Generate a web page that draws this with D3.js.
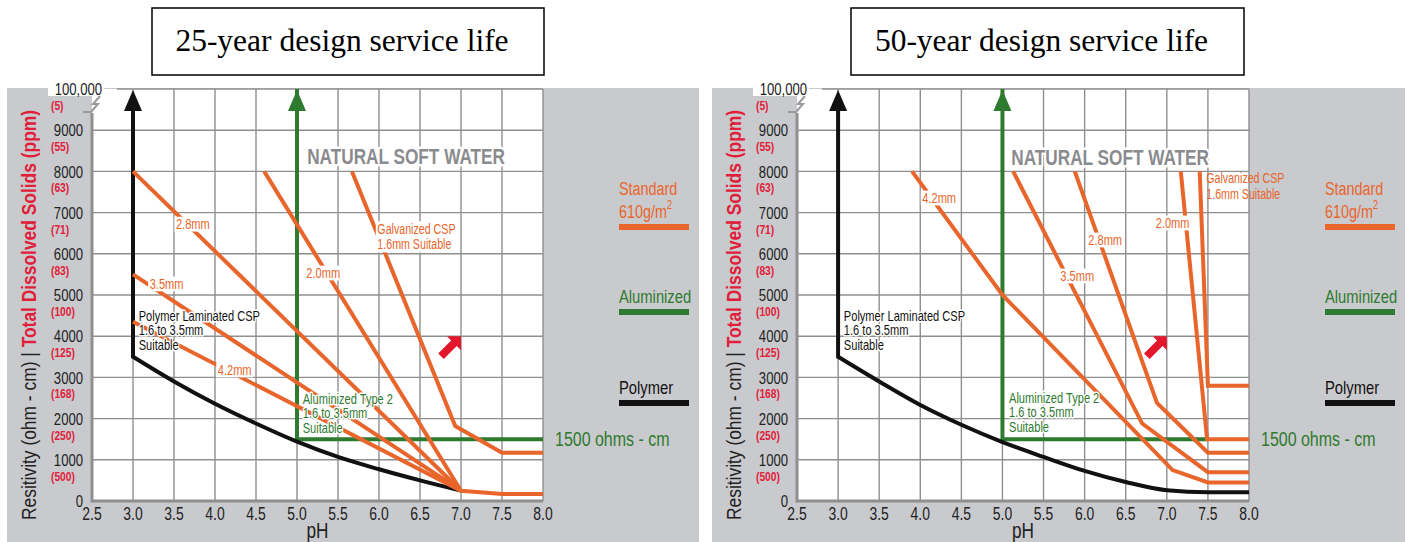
<!DOCTYPE html>
<html><head><meta charset="utf-8">
<script src="https://cdn.jsdelivr.net/npm/d3@7"></script>
<style>body{margin:0;background:#fff}svg{display:block}</style>
</head><body>
<svg id="c" width="1411" height="542"></svg>
<script>
// ---------- DATA ----------
const phTicks = [2.5, 3.0, 3.5, 4.0, 4.5, 5.0, 5.5, 6.0, 6.5, 7.0, 7.5, 8.0];
const phLabels = ["2.5","3.0","3.5","4.0","4.5","5.0","5.5","6.0","6.5","7.0","7.5","8.0"];
const resTicks = [0, 1000, 2000, 3000, 4000, 5000, 6000, 7000, 8000, 9000, 10000];
const resLabels = ["0","1000","2000","3000","4000","5000","6000","7000","8000","9000","100,000"];
const tdsLabels = ["","(500)","(250)","(168)","(125)","(100)","(83)","(71)","(63)","(55)","(5)"];

const titles = ["25-year design service life", "50-year design service life"];

// 25-year series [pH, resistivity]
const polymer25 = [[3.0,10000],[3.0,3500],[3.5,2900],[4.0,2360],[4.5,1880],[5.0,1440],[5.5,1070],[6.0,770],[6.5,500],[7.0,250]];
const aluminized25 = [[5.0,10000],[5.0,1500],[8.0,1500]];
const galv16_25 = [[5.67,8000],[6.93,1820],[7.5,1170],[8.0,1170]];
const mm20_25 = [[4.6,8000],[7.0,250]];
const mm28_25 = [[3.0,8000],[7.0,250]];
const mm35_25 = [[3.0,5500],[7.0,250]];
const mm42_25 = [[3.0,4350],[7.0,250],[7.5,170],[8.0,170]];

// 50-year series
const polymer50 = [[3.0,10000],[3.0,3500],[3.5,2900],[4.0,2330],[4.5,1850],[5.0,1430],[5.5,1070],[6.0,730],[6.5,460],[7.0,260],[7.5,210],[8.0,210]];
const aluminized50 = [[5.0,10000],[5.0,1500],[7.5,1500]];
const galv16_50 = [[7.4,8000],[7.5,2800],[8.0,2800]];
const mm20_50 = [[7.17,8000],[7.49,1500],[8.0,1500]];
const mm28_50 = [[5.88,8000],[6.88,2380],[7.5,1170],[8.0,1170]];
const mm35_50 = [[5.13,8000],[6.7,1880],[7.5,700],[8.0,700]];
const mm42_50 = [[3.9,8000],[5.0,5000],[7.07,750],[7.5,450],[8.0,450]];

// annotation anchors (pH, resistivity)
const mmLabels25 = [["2.8mm",3.73,6720],["3.5mm",3.41,5270],["4.2mm",4.24,3180],["2.0mm",5.32,5534]];
const mmLabels50 = [["4.2mm",4.23,7354],["3.5mm",5.91,5461],["2.8mm",6.25,6335],["2.0mm",7.07,6748]];
const galvText = ["Galvanized CSP","1.6mm Suitable"];
const polyText = ["Polymer Laminated CSP","1.6 to 3.5mm","Suitable"];
const alumText = ["Aluminized Type 2","1.6 to 3.5mm","Suitable"];
const arrowTip = [7.0, 4000];

// ---------- STYLE ----------
const FN = "'Liberation Sans',Arial,Helvetica,sans-serif";
const SX = 0.77; // condensed look
const K = 1.065; // font-size compensation for condensing
const ORANGE = "#e8652b", GREEN = "#2e7a2f", RED = "#e0203a", BLACK = "#111";
const PANEL = "#c9cacd", GRID = "#8f8f90", NSW = "#8a8b8f";

const svg = d3.select("#c");

function ct(parent, x, y, size, fill, anchor) {
  const gg = parent.append("g").attr("transform", `translate(${x},${y}) scale(${SX},1)`);
  return gg.append("text").attr("x", 0).attr("y", 0).attr("font-family", FN).attr("font-size", size * K)
    .attr("fill", fill).attr("text-anchor", anchor || "start").attr("dominant-baseline", "central");
}
function halo(sel, w) {
  return sel.attr("stroke", "#fff").attr("stroke-width", w).attr("paint-order", "stroke").attr("stroke-linejoin", "round");
}

const charts = [
  { x0: 92, x1: 543, bx: 152, bw: 392, title: titles[0],
    polymer: polymer25, alum: aluminized25,
    orange: [mm20_25, mm28_25, mm35_25, mm42_25, galv16_25],
    mm: mmLabels25, galv: [5.98, 6600, true], nsw: [6.33, 8370],
    poly: [3.07, 4515], alumLab: [5.07, 2500] },
  { x0: 797, x1: 1249, bx: 851, bw: 393, title: titles[1],
    polymer: polymer50, alum: aluminized50,
    orange: [mm20_50, mm28_50, mm35_50, mm42_50, galv16_50],
    mm: mmLabels50, galv: [7.48, 7816, false], nsw: [6.31, 8350],
    poly: [3.07, 4515], alumLab: [5.08, 2520] }
];

charts.forEach(c => {
  const x = d3.scaleLinear().domain([2.5, 8]).range([c.x0, c.x1]);
  const y = d3.scaleLinear().domain([0, 10000]).range([501, 89]);
  const g = svg.append("g");
  const line = d3.line().x(d => x(d[0])).y(d => y(d[1]));

  // title box
  g.append("rect").attr("x", c.bx).attr("y", 8).attr("width", c.bw).attr("height", 67)
    .attr("fill", "#fff").attr("stroke", "#000").attr("stroke-width", 1.5);
  g.append("text").attr("x", c.bx + c.bw / 2 - 6).attr("y", 40).attr("text-anchor", "middle")
    .attr("dominant-baseline", "central").attr("font-family", "'Liberation Serif','Times New Roman',serif")
    .attr("font-size", 31.5).attr("fill", "#000").text(c.title);

  // panel + plot area
  g.append("rect").attr("x", c.x0 - 85).attr("y", 88).attr("width", (c.x1 + 156) - (c.x0 - 85)).attr("height", 454).attr("fill", PANEL);
  g.append("rect").attr("x", c.x0).attr("y", y(10000)).attr("width", c.x1 - c.x0).attr("height", y(0) - y(10000)).attr("fill", "#fff");

  // grid
  const grid = g.append("g").attr("stroke", GRID).attr("stroke-width", 1.4);
  phTicks.slice(1).forEach(p => grid.append("line").attr("x1", x(p)).attr("x2", x(p)).attr("y1", y(10000)).attr("y2", y(0)));
  resTicks.slice(1, -1).forEach(v => grid.append("line").attr("x1", c.x0).attr("x2", c.x1).attr("y1", y(v)).attr("y2", y(v)));
  grid.append("line").attr("x1", c.x0 + 25).attr("x2", c.x1).attr("y1", y(10000)).attr("y2", y(10000));
  // axes
  g.append("line").attr("x1", c.x0).attr("x2", c.x0).attr("y1", y(10000) + 24).attr("y2", y(0) + 1.5).attr("stroke", GRID).attr("stroke-width", 3);
  g.append("line").attr("x1", c.x0).attr("x2", c.x1).attr("y1", y(0)).attr("y2", y(0)).attr("stroke", GRID).attr("stroke-width", 3);
  // axis break
  g.append("path").attr("d", `M${c.x0 - 9},${y(10000) + 23} L${c.x0 - 1},${y(10000) + 23} L${c.x0 + 6},${y(10000) + 15} L${c.x0 + 1},${y(10000) + 15} L${c.x0 + 8},${y(10000) + 7}`)
    .attr("fill", "none").attr("stroke", "#999").attr("stroke-width", 2);

  // y tick labels
  resTicks.forEach((v, i) => {
    if (i === resTicks.length - 1) {
      g.append("rect").attr("x", c.x0 - 44).attr("y", 80).attr("width", 56).attr("height", 16).attr("fill", "#fff");
      ct(g, c.x0 + 10, y(v), 16, "#222", "end").text(resLabels[i]);
    } else {
      ct(g, c.x0 - 9, y(v), 16, "#222", "end").text(resLabels[i]);
    }
    if (tdsLabels[i]) {
      ct(g, c.x0 - 41, y(v) + 16.5, 12.5, RED).attr("font-weight", "bold").text(tdsLabels[i]);
    }
  });
  // x tick labels
  phTicks.forEach((p, i) => ct(g, x(p), 513, 17, "#222", "middle").text(phLabels[i]));
  ct(g, (c.x0 + c.x1) / 2, 530, 21, "#222", "middle").text("pH");

  // y axis title
  const yt = g.append("text").attr("transform", `translate(${c.x0 - 56},${315}) rotate(-90)`)
    .attr("text-anchor", "middle").attr("font-family", FN).attr("font-size", 19.5)
    .attr("textLength", 410).attr("lengthAdjust", "spacingAndGlyphs");
  yt.append("tspan").attr("fill", "#222").text("Resitivity (ohm - cm)  |  ");
  yt.append("tspan").attr("fill", RED).attr("font-weight", "bold").text("Total Dissolved Solids (ppm)");

  // aluminized (green)
  g.append("path").attr("d", line(c.alum)).attr("fill", "none").attr("stroke", GREEN).attr("stroke-width", 4).attr("stroke-linejoin", "miter");
  g.append("path").attr("d", `M${x(c.alum[0][0])},${y(c.alum[0][1]) + 1} L${x(c.alum[0][0]) - 9},${y(c.alum[0][1]) + 22} L${x(c.alum[0][0]) + 9},${y(c.alum[0][1]) + 22}Z`).attr("fill", GREEN);

  // polymer (black)
  const curve = d3.line().x(d => x(d[0])).y(d => y(d[1])).curve(d3.curveMonotoneX);
  const p0 = c.polymer[0];
  const pd = `M${x(p0[0])},${y(p0[1]) + 10}` + "L" + curve(c.polymer.slice(1)).slice(1);
  g.append("path").attr("d", pd).attr("fill", "none").attr("stroke", BLACK).attr("stroke-width", 4).attr("stroke-linejoin", "miter");
  g.append("path").attr("d", `M${x(p0[0])},${y(p0[1]) + 1} L${x(p0[0]) - 9},${y(p0[1]) + 22} L${x(p0[0]) + 9},${y(p0[1]) + 22}Z`).attr("fill", BLACK);

  // galvanized (orange)
  c.orange.forEach(s => g.append("path").attr("d", line(s)).attr("fill", "none").attr("stroke", ORANGE).attr("stroke-width", 4).attr("stroke-linejoin", "miter"));

  // mm labels with white knockout
  c.mm.forEach(([t, p, v]) => {
    const tx = ct(g, x(p), y(v), 13.5, ORANGE, "middle").text(t);
    const bb = tx.node().getBBox();
    d3.select(tx.node().parentNode).insert("rect", "text").attr("x", bb.x - 2).attr("y", bb.y + 1)
      .attr("width", bb.width + 4).attr("height", bb.height - 2).attr("fill", "#fff");
  });

  // galvanized label
  {
    const tx = ct(g, x(c.galv[0]), y(c.galv[1]), 13, ORANGE);
    galvText.forEach((t, i) => tx.append("tspan").attr("x", 0).attr("y", i * 15.5).text(t));
    if (c.galv[2]) {
      const bb = tx.node().getBBox();
      d3.select(tx.node().parentNode).insert("rect", "text").attr("x", bb.x - 2).attr("y", bb.y)
        .attr("width", bb.width + 4).attr("height", bb.height).attr("fill", "#fff");
    }
  }
  // natural soft water
  halo(ct(g, x(c.nsw[0]), y(c.nsw[1]), 21, NSW, "middle").attr("font-weight", "bold").text("NATURAL SOFT WATER"), 5);

  // polymer label
  const pt = ct(g, x(c.poly[0]), y(c.poly[1]), 13.5, "#111");
  polyText.forEach((t, i) => pt.append("tspan").attr("x", 0).attr("y", i * 14.5).text(t));
  halo(pt, 3);
  // aluminized label
  const at = ct(g, x(c.alumLab[0]), y(c.alumLab[1]), 13.5, GREEN);
  alumText.forEach((t, i) => at.append("tspan").attr("x", 0).attr("y", i * 14.5).text(t));
  halo(at, 3);

  // red arrow (tip at data point)
  const ax = x(arrowTip[0]), ay = y(arrowTip[1]);
  g.append("path").attr("transform", `translate(${ax},${ay})`)
    .attr("d", "M0,0 L0,14 L-4.2,9.8 L-17.2,22.8 L-22.8,17.2 L-9.8,4.2 L-14,0Z").attr("fill", "#e3162b");

  // 1500 ohms - cm
  ct(g, c.x1 + 12, y(1500), 19.5, GREEN).text("1500 ohms - cm");

  // legend
  const lx = c.x1 + 76;
  ct(g, lx, 188.5, 17.5, ORANGE).text("Standard");
  const s2 = ct(g, lx, 211, 17.5, ORANGE);
  s2.append("tspan").text("610g/m");
  s2.append("tspan").attr("font-size", 12.5).attr("dy", -6).text("2");
  g.append("rect").attr("x", lx).attr("y", 224).attr("width", 70).attr("height", 6).attr("fill", ORANGE);
  ct(g, lx, 297, 18, GREEN).text("Aluminized");
  g.append("rect").attr("x", lx).attr("y", 309).attr("width", 70).attr("height", 6).attr("fill", GREEN);
  ct(g, lx, 388, 18, "#111").text("Polymer");
  g.append("rect").attr("x", lx).attr("y", 400).attr("width", 70).attr("height", 6).attr("fill", "#111");
});
</script>
</body></html>
